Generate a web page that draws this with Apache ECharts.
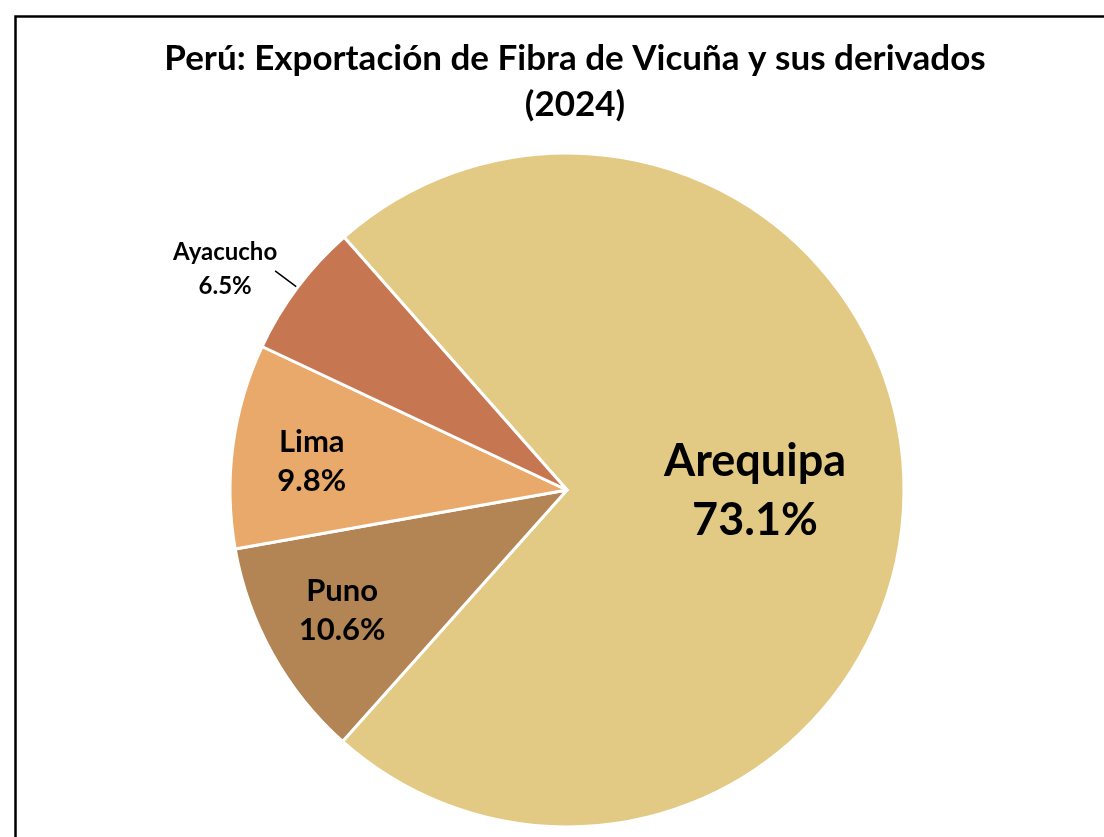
<!DOCTYPE html>
<html>
<head>
<meta charset="utf-8">
<script src="https://cdn.jsdelivr.net/npm/echarts@6/dist/echarts.min.js"></script>
<style>
html,body{margin:0;padding:0;background:#fff;}
#main{width:1104px;height:837px;}
</style>
</head>
<body>
<div id="main"></div>
<script>
const titleLines = ['Perú: Exportación de Fibra de Vicuña y sus derivados', '(2024)'];
const categories = ['Arequipa', 'Puno', 'Lima', 'Ayacucho'];
const values = [73.1, 10.6, 9.8, 6.5];
const colors = ['#E3CA84', '#B38454', '#E9A96B', '#C77652'];

const FONT = 'Lato';
const center = [567, 490];
const R = 337;
const startAngle = 131.4;

const chart = echarts.init(document.getElementById('main'));

function pct(v) { return v.toFixed(1) + '%'; }

const mainData = categories.map((c, i) => {
  const item = { name: c, value: values[i], itemStyle: { color: colors[i] } };
  if (c === 'Ayacucho') {
    item.label = {
      show: true, position: 'outside',
      formatter: '{a|' + c + '}\n{a|' + pct(values[i]) + '}',
      color: '#000',
      distanceToLabelLine: -4,
      padding: [0, 0, 4, 0],
      rich: {
        a: { fontFamily: FONT, fontWeight: 'bold', fontSize: 24, lineHeight: 34, color: '#000', width: 108, align: 'center' }
      }
    };
    item.labelLine = { show: true, length: 28, length2: 0, lineStyle: { color: '#000', width: 1.5 } };
  } else {
    item.label = { show: false };
    item.labelLine = { show: false };
  }
  return item;
});

function ghostData(showNames, fontSize, lineHeight) {
  return categories.map((c, i) => ({
    name: c, value: values[i],
    itemStyle: { color: 'rgba(0,0,0,0)', borderWidth: 0 },
    label: {
      show: showNames.indexOf(c) >= 0,
      position: 'inside',
      formatter: c + '\n' + pct(values[i]),
      fontFamily: FONT, fontWeight: 'bold', fontSize: fontSize, lineHeight: lineHeight,
      color: '#000'
    }
  }));
}

const labelNudge = { Puno: -5, Lima: 5 };

chart.setOption({
  animation: false,
  backgroundColor: '#fff',
  title: {
    text: titleLines.join('\n'),
    left: 570,
    textAlign: 'center',
    top: 31,
    textStyle: { fontFamily: FONT, fontWeight: 'bold', fontSize: 35, lineHeight: 46, color: '#000' }
  },
  graphic: [{
    type: 'rect',
    shape: { x: 15.5, y: 16.5, width: 1300, height: 1000 },
    style: { fill: 'none', stroke: '#000', lineWidth: 2.5 },
    silent: true
  }],
  series: [
    {
      type: 'pie', center: center, radius: [0, R], startAngle: startAngle, clockwise: true,
      data: mainData,
      itemStyle: { borderColor: '#fff', borderWidth: 3 },
      label: { show: false },
      emphasis: { disabled: true },
      silent: true
    },
    {
      type: 'pie', center: center, radius: [172, R], startAngle: startAngle, clockwise: true,
      data: ghostData(['Puno', 'Lima'], 31, 39),
      labelLayout: function (p) { return { dy: labelNudge[categories[p.dataIndex]] || 0 }; },
      emphasis: { disabled: true }, silent: true, z: 3
    },
    {
      type: 'pie', center: center, radius: [33, R], startAngle: startAngle, clockwise: true,
      data: ghostData(['Arequipa'], 45, 59),
      emphasis: { disabled: true }, silent: true, z: 3
    }
  ]
});
</script>
</body>
</html>
